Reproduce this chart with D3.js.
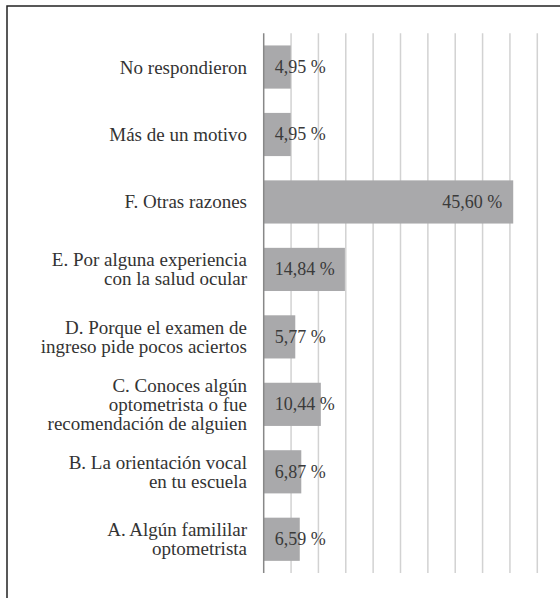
<!DOCTYPE html>
<html><head><meta charset="utf-8"><script src="https://cdn.jsdelivr.net/npm/d3@7"></script></head>
<body style="margin:0">
<script>
const ancho = 560
const alto = 598
const fuentes = ["Liberation Serif"]

// datos, de arriba hacia abajo
const categorias = [
    "No respondieron",
    "Más de un motivo",
    "F. Otras razones",
    "E. Por alguna experiencia|con la salud ocular",
    "D. Porque el examen de|ingreso pide pocos aciertos",
    "C. Conoces algún|optometrista o fue|recomendación de alguien",
    "B. La orientación vocal|en tu escuela",
    "A. Algún famililar|optometrista"
]
const valores = [4.95, 4.95, 45.60, 14.84, 5.77, 10.44, 6.87, 6.59]
const ticks = [0, 5, 10, 15, 20, 25, 30, 35, 40, 45, 50]

const svg = d3.select("body").append("svg")
    .attr("width", ancho)
    .attr("height", alto)

// marco
svg.append("rect")
    .attr("x", 7).attr("y", 6)
    .attr("width", 600).attr("height", 640)
    .attr("fill", "none")
    .attr("stroke", "#222")
    .attr("stroke-width", 1.5)

const x = d3.scaleLinear().domain([0, 50]).range([263.7, 537.3])
const y = d3.scaleBand().domain(categorias).range([33.3, 573])
    .paddingInner(0.36).paddingOuter(0.18)

// rejilla
svg.selectAll("line.grid")
    .data(ticks.slice(1))
    .join("line")
    .attr("class", "grid")
    .attr("x1", d => x(d)).attr("x2", d => x(d))
    .attr("y1", y.range()[0]).attr("y2", y.range()[1])
    .attr("stroke", "#d2d2d2")
    .attr("stroke-width", 1.5)

// barras
svg.selectAll("rect.barra")
    .data(valores)
    .join("rect")
    .attr("class", "barra")
    .attr("x", x(0))
    .attr("y", (d, i) => y(categorias[i]))
    .attr("width", d => x(d) - x(0))
    .attr("height", y.bandwidth())
    .attr("fill", "#a9a9ab")

// eje vertical
svg.append("line")
    .attr("x1", x(0)).attr("x2", x(0))
    .attr("y1", y.range()[0]).attr("y2", y.range()[1])
    .attr("stroke", "#888")
    .attr("stroke-width", 1.5)

// etiquetas de valor
svg.selectAll("text.valor")
    .data(valores)
    .join("text")
    .attr("class", "valor")
    .attr("x", d => d > 20 ? x(d) - 11 : x(0) + 11)
    .attr("y", (d, i) => y(categorias[i]) + y.bandwidth() / 2 + 6)
    .attr("text-anchor", d => d > 20 ? "end" : "start")
    .attr("font-size", "18px")
    .style("font-family", d => `'${fuentes[0]}'`)
    .attr("fill", "#3a3a3a")
    .text(d => d.toFixed(2).replace(".", ",") + " %")

// etiquetas de categoria, una linea por texto
const lineaAlto = 19
const lineas = []
categorias.forEach(c => {
    const partes = c.split("|")
    partes.forEach((p, j) => lineas.push({ cat: c, texto: p, j: j, n: partes.length }))
})

svg.selectAll("text.cat")
    .data(lineas)
    .join("text")
    .attr("class", "cat")
    .attr("x", 247)
    .attr("y", d => y(d.cat) + y.bandwidth() / 2 + 6.5 + (d.j - (d.n - 1) / 2) * lineaAlto)
    .attr("text-anchor", "end")
    .attr("font-size", "19px")
    .style("font-family", d => `'${fuentes[0]}'`)
    .attr("fill", "#333")
    .text(d => d.texto)
</script>
</body></html>
